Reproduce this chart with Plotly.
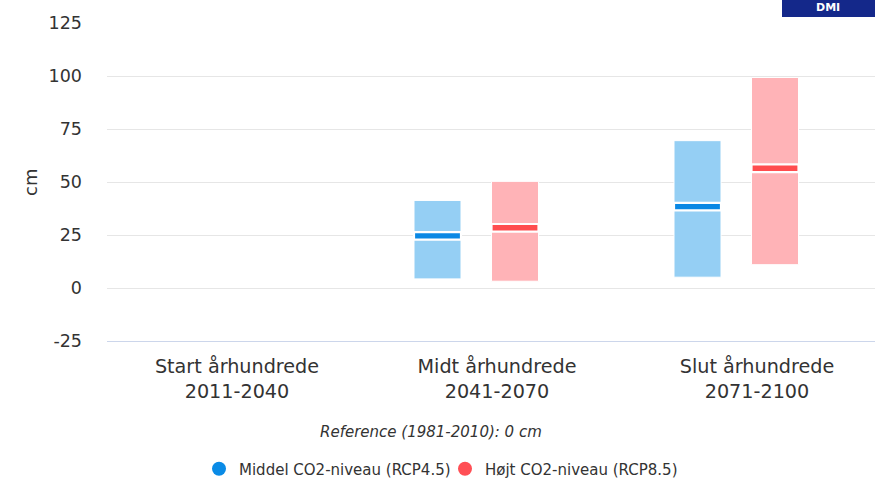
import plotly.graph_objects as go

categories = ["Start århundrede<br>2011-2040", "Midt århundrede<br>2041-2070", "Slut århundrede<br>2071-2100"]
rcp45_low = [None, 4.3, 5.1]
rcp45_high = [None, 41.3, 69.5]
rcp45_median = [None, 24.6, 38.4]
rcp85_low = [None, 3.2, 11.0]
rcp85_high = [None, 50.3, 99.3]
rcp85_median = [None, 28.4, 56.5]
series_names = ["Middel CO2-niveau (RCP4.5)", "Højt CO2-niveau (RCP8.5)"]
y_ticks = [-25, 0, 25, 50, 75, 100, 125]
y_ticktext = ["-25", "0", "25", "50", "75", "100", "125"]

FONT = "DejaVu Sans"
TXT = "#333333"
W, H = 875, 478
ML, MR, MT = 107, 0, 22
MB = H - 341
PW = W - ML - MR
PH = H - MT - MB
CAT_PX = 260.0
PX_PER_CM = 318 / 150.0
Y_TOP = -25 + PH / PX_PER_CM


def px_x(px):
    return (px - ML) / PW


def px_y(py):
    return (MT + PH - py) / PH


BAR_W = 47 / CAT_PX
OFF45 = -59.5 / CAT_PX - BAR_W / 2
OFF85 = 18 / CAT_PX - BAR_W / 2
BAND = 3.6


def span(lo, hi):
    return [None if (a is None or b is None) else b - a for a, b in zip(lo, hi)]


def band_base(m):
    return [None if v is None else v - BAND / 2 for v in m]


def band_h(m):
    return [None if v is None else BAND for v in m]


fig = go.Figure()
specs = [
    (rcp45_low, rcp45_high, rcp45_median, OFF45, "#95CFF4", "#0A88E4", "#0A8BE6", series_names[0]),
    (rcp85_low, rcp85_high, rcp85_median, OFF85, "#FFB3B7", "#FF4D4F", "#FF4F55", series_names[1]),
]
for lo, hi, med, off, light, dark, leg, name in specs:
    fig.add_trace(go.Bar(x=categories, y=span(lo, hi), base=lo, offset=off, width=BAR_W,
                         marker=dict(color=light, line=dict(color="white", width=1)),
                         showlegend=False, hoverinfo="skip"))
    fig.add_trace(go.Bar(x=categories, y=band_h(med), base=band_base(med), offset=off, width=BAR_W,
                         marker=dict(color=dark, line=dict(color="white", width=2.2)),
                         showlegend=False, hoverinfo="skip"))
    fig.add_trace(go.Scatter(x=[None], y=[None], mode="markers", name=name,
                             marker=dict(symbol="circle", size=14, color=leg)))

fig.update_layout(
    width=W, height=H,
    margin=dict(l=ML, r=MR, t=MT, b=MB, pad=0, autoexpand=False),
    paper_bgcolor="white", plot_bgcolor="white",
    barmode="overlay",
    font=dict(family=FONT, color=TXT, size=18),
    showlegend=True,
    legend=dict(orientation="h", xanchor="center", x=px_x(445), yanchor="middle",
                y=px_y(469), font=dict(size=15, color=TXT, family=FONT),
                entrywidth=201, bgcolor="rgba(0,0,0,0)"),
    xaxis=dict(type="category", range=[-0.5, -0.5 + PW / CAT_PX], showgrid=False,
               showline=True, linecolor="#CCD6EB", linewidth=1, ticks="",
               ticklabelstandoff=8,
               tickfont=dict(size=19.2, color=TXT), zeroline=False, fixedrange=True),
    yaxis=dict(range=[-25, Y_TOP], tickvals=y_ticks, ticktext=y_ticktext, showgrid=True,
               gridcolor="#E6E6E6", gridwidth=1, zeroline=False, showline=False, ticks="",
               ticklabelstandoff=24, tickfont=dict(size=17.5, color=TXT), fixedrange=True),
    shapes=[dict(type="rect", xref="paper", yref="paper",
                 x0=px_x(782), x1=1.0, y0=px_y(17), y1=px_y(-5),
                 fillcolor="#14288A", line=dict(width=0), layer="above")],
    annotations=[
        dict(text="cm", xref="paper", yref="paper", x=px_x(30), y=px_y(183), textangle=-90,
             xanchor="center", yanchor="middle", showarrow=False, font=dict(size=18, color=TXT)),
        dict(text="<i>Reference (1981-2010): 0 cm</i>", xref="paper", yref="paper",
             x=px_x(431), y=px_y(432), xanchor="center", yanchor="middle",
             showarrow=False, font=dict(size=15, color=TXT)),
        dict(text="<b>DMI</b>", xref="paper", yref="paper", x=px_x(828),
             y=px_y(8), xanchor="center", yanchor="middle", showarrow=False,
             font=dict(size=11, color="white")),
    ],
)

# remove the browser's default 8px page margin so the figure fills the window exactly
fig.write_html("out.html", config={"displayModeBar": False},
               post_script="document.body.style.margin='0';")
